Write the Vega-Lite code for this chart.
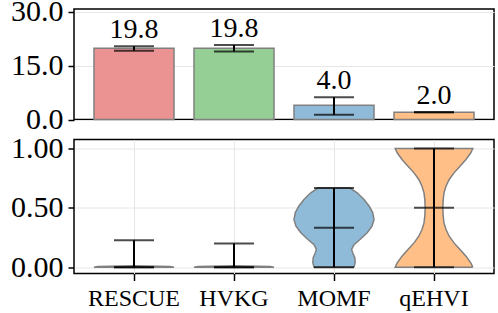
{
  "$schema": "https://vega.github.io/schema/vega-lite/v6.json",
  "padding": {"left": 9, "top": -5, "right": 5, "bottom": 0},
  "bounds": "flush",
  "spacing": 19.5,
  "resolve": {"scale": {"x": "independent", "xOffset": "independent"}},
  "config": {
    "view": {"stroke": "black", "strokeWidth": 1.5},
    "axis": {"domain": false, "labelFont": "Liberation Serif", "labelColor": "black", "tickColor": "black", "tickWidth": 1.5, "tickSize": 6, "gridColor": "#e6e6e6", "gridWidth": 1, "labelPadding": 5},
    "text": {"font": "Liberation Serif"}
  },
  "datasets": {
    "bars": [
      {"method": "RESCUE", "value": 19.8, "lo": 19.15, "hi": 20.4},
      {"method": "HVKG", "value": 19.8, "lo": 18.95, "hi": 20.7},
      {"method": "MOMF", "value": 4.0, "lo": 1.3, "hi": 6.2},
      {"method": "qEHVI", "value": 2.0, "lo": 2.0, "hi": 2.0}
    ],
    "stats": [
      {"method": "RESCUE", "min": 0, "median": 0, "max": 0.227},
      {"method": "HVKG", "min": 0, "median": 0, "max": 0.2},
      {"method": "MOMF", "min": 0, "median": 0.333, "max": 0.667},
      {"method": "qEHVI", "min": 0, "median": 0.5, "max": 1.0}
    ],
    "violin": [
      {"method": "RESCUE", "i": 0, "value": 0, "w": 1.0},
      {"method": "RESCUE", "i": 1, "value": 0.006, "w": 0.9},
      {"method": "RESCUE", "i": 2, "value": 0.012, "w": 0.0},
      {"method": "RESCUE", "i": 3, "value": 0.006, "w": -0.9},
      {"method": "RESCUE", "i": 4, "value": 0, "w": -1.0},
      {"method": "RESCUE", "i": 5, "value": 0, "w": 1.0},
      {"method": "HVKG", "i": 0, "value": 0, "w": 1.0},
      {"method": "HVKG", "i": 1, "value": 0.006, "w": 0.9},
      {"method": "HVKG", "i": 2, "value": 0.012, "w": 0.0},
      {"method": "HVKG", "i": 3, "value": 0.006, "w": -0.9},
      {"method": "HVKG", "i": 4, "value": 0, "w": -1.0},
      {"method": "HVKG", "i": 5, "value": 0, "w": 1.0},
      {"method": "MOMF", "i": 0, "value": 0.0, "w": 0.5},
      {"method": "MOMF", "i": 1, "value": 0.04, "w": 0.53},
      {"method": "MOMF", "i": 2, "value": 0.08, "w": 0.52},
      {"method": "MOMF", "i": 3, "value": 0.12, "w": 0.47},
      {"method": "MOMF", "i": 4, "value": 0.15, "w": 0.44},
      {"method": "MOMF", "i": 5, "value": 0.19, "w": 0.5},
      {"method": "MOMF", "i": 6, "value": 0.233, "w": 0.65},
      {"method": "MOMF", "i": 7, "value": 0.29, "w": 0.83},
      {"method": "MOMF", "i": 8, "value": 0.345, "w": 0.95},
      {"method": "MOMF", "i": 9, "value": 0.4, "w": 1.0},
      {"method": "MOMF", "i": 10, "value": 0.458, "w": 0.97},
      {"method": "MOMF", "i": 11, "value": 0.514, "w": 0.88},
      {"method": "MOMF", "i": 12, "value": 0.57, "w": 0.75},
      {"method": "MOMF", "i": 13, "value": 0.627, "w": 0.58},
      {"method": "MOMF", "i": 14, "value": 0.667, "w": 0.4},
      {"method": "MOMF", "i": 15, "value": 0.667, "w": -0.4},
      {"method": "MOMF", "i": 16, "value": 0.627, "w": -0.58},
      {"method": "MOMF", "i": 17, "value": 0.57, "w": -0.75},
      {"method": "MOMF", "i": 18, "value": 0.514, "w": -0.88},
      {"method": "MOMF", "i": 19, "value": 0.458, "w": -0.97},
      {"method": "MOMF", "i": 20, "value": 0.4, "w": -1.0},
      {"method": "MOMF", "i": 21, "value": 0.345, "w": -0.95},
      {"method": "MOMF", "i": 22, "value": 0.29, "w": -0.83},
      {"method": "MOMF", "i": 23, "value": 0.233, "w": -0.65},
      {"method": "MOMF", "i": 24, "value": 0.19, "w": -0.5},
      {"method": "MOMF", "i": 25, "value": 0.15, "w": -0.44},
      {"method": "MOMF", "i": 26, "value": 0.12, "w": -0.47},
      {"method": "MOMF", "i": 27, "value": 0.08, "w": -0.52},
      {"method": "MOMF", "i": 28, "value": 0.04, "w": -0.53},
      {"method": "MOMF", "i": 29, "value": 0.0, "w": -0.5},
      {"method": "MOMF", "i": 30, "value": 0.0, "w": 0.5},
      {"method": "qEHVI", "i": 0, "value": 0.0, "w": 0.97},
      {"method": "qEHVI", "i": 1, "value": 0.036, "w": 0.92},
      {"method": "qEHVI", "i": 2, "value": 0.093, "w": 0.8},
      {"method": "qEHVI", "i": 3, "value": 0.149, "w": 0.65},
      {"method": "qEHVI", "i": 4, "value": 0.205, "w": 0.5},
      {"method": "qEHVI", "i": 5, "value": 0.261, "w": 0.38},
      {"method": "qEHVI", "i": 6, "value": 0.318, "w": 0.3},
      {"method": "qEHVI", "i": 7, "value": 0.373, "w": 0.25},
      {"method": "qEHVI", "i": 8, "value": 0.43, "w": 0.23},
      {"method": "qEHVI", "i": 9, "value": 0.5, "w": 0.22},
      {"method": "qEHVI", "i": 10, "value": 0.57, "w": 0.23},
      {"method": "qEHVI", "i": 11, "value": 0.627, "w": 0.25},
      {"method": "qEHVI", "i": 12, "value": 0.682, "w": 0.3},
      {"method": "qEHVI", "i": 13, "value": 0.739, "w": 0.38},
      {"method": "qEHVI", "i": 14, "value": 0.795, "w": 0.5},
      {"method": "qEHVI", "i": 15, "value": 0.851, "w": 0.65},
      {"method": "qEHVI", "i": 16, "value": 0.907, "w": 0.8},
      {"method": "qEHVI", "i": 17, "value": 0.964, "w": 0.92},
      {"method": "qEHVI", "i": 18, "value": 1.0, "w": 0.97},
      {"method": "qEHVI", "i": 19, "value": 1.0, "w": -0.97},
      {"method": "qEHVI", "i": 20, "value": 0.964, "w": -0.92},
      {"method": "qEHVI", "i": 21, "value": 0.907, "w": -0.8},
      {"method": "qEHVI", "i": 22, "value": 0.851, "w": -0.65},
      {"method": "qEHVI", "i": 23, "value": 0.795, "w": -0.5},
      {"method": "qEHVI", "i": 24, "value": 0.739, "w": -0.38},
      {"method": "qEHVI", "i": 25, "value": 0.682, "w": -0.3},
      {"method": "qEHVI", "i": 26, "value": 0.627, "w": -0.25},
      {"method": "qEHVI", "i": 27, "value": 0.57, "w": -0.23},
      {"method": "qEHVI", "i": 28, "value": 0.5, "w": -0.22},
      {"method": "qEHVI", "i": 29, "value": 0.43, "w": -0.23},
      {"method": "qEHVI", "i": 30, "value": 0.373, "w": -0.25},
      {"method": "qEHVI", "i": 31, "value": 0.318, "w": -0.3},
      {"method": "qEHVI", "i": 32, "value": 0.261, "w": -0.38},
      {"method": "qEHVI", "i": 33, "value": 0.205, "w": -0.5},
      {"method": "qEHVI", "i": 34, "value": 0.149, "w": -0.65},
      {"method": "qEHVI", "i": 35, "value": 0.093, "w": -0.8},
      {"method": "qEHVI", "i": 36, "value": 0.036, "w": -0.92},
      {"method": "qEHVI", "i": 37, "value": 0.0, "w": -0.97},
      {"method": "qEHVI", "i": 38, "value": 0.0, "w": 0.97}
    ]
  },
  "vconcat": [
    {
      "width": 420,
      "height": 110.5,
      "data": {"name": "bars"},
      "encoding": {
        "x": {"field": "method", "type": "nominal", "scale": {"type": "band", "domain": ["RESCUE", "HVKG", "MOMF", "qEHVI"], "paddingInner": 0.2, "paddingOuter": 0.2}, "axis": null}
      },
      "layer": [
        {
          "mark": {"type": "bar", "stroke": "#808080", "strokeWidth": 1.5},
          "encoding": {
            "y": {"field": "value", "type": "quantitative", "scale": {"domain": [0, 30.75], "nice": false}, "axis": {"values": [0, 15, 30], "format": ".1f", "labelFontSize": 30, "title": null, "grid": true}},
            "color": {"field": "method", "type": "nominal", "scale": {"domain": ["RESCUE", "HVKG", "MOMF", "qEHVI"], "range": ["#eb9393", "#95cf95", "#8fbbd9", "#ffbf86"]}, "legend": null}
          }
        },
        {
          "mark": {"type": "rule", "color": "black", "strokeWidth": 2},
          "encoding": {"y": {"field": "lo", "type": "quantitative"}, "y2": {"field": "hi"}}
        },
        {
          "mark": {"type": "tick", "color": "black", "size": 40, "thickness": 2},
          "encoding": {"y": {"field": "lo", "type": "quantitative"}}
        },
        {
          "mark": {"type": "tick", "color": "black", "size": 40, "thickness": 2},
          "encoding": {"y": {"field": "hi", "type": "quantitative"}}
        },
        {
          "mark": {"type": "text", "fontSize": 28, "baseline": "alphabetic", "dy": -8, "color": "black", "font": "Liberation Serif"},
          "encoding": {"y": {"field": "hi", "type": "quantitative"}, "text": {"field": "value", "type": "quantitative", "format": ".1f"}}
        }
      ]
    },
    {
      "width": 420,
      "height": 134,
      "encoding": {
        "x": {"field": "method", "type": "nominal", "scale": {"type": "band", "domain": ["RESCUE", "HVKG", "MOMF", "qEHVI"], "paddingInner": 0.2, "paddingOuter": 0.2}, "axis": {"title": null, "labelFontSize": 24, "labelAngle": 0, "labelPadding": 6, "tickSize": 7, "grid": true}}
      },
      "layer": [
        {
          "data": {"name": "violin"},
          "mark": {"type": "line", "stroke": "#808080", "strokeWidth": 1.5},
          "encoding": {
            "y": {"field": "value", "type": "quantitative", "scale": {"domain": [-0.053, 1.076], "nice": false, "zero": false}, "axis": {"values": [0, 0.5, 1], "format": ".2f", "labelFontSize": 30, "title": null, "grid": true}},
            "xOffset": {"field": "w", "type": "quantitative", "scale": {"domain": [-1, 1], "range": [0, 80]}},
            "order": {"field": "i", "type": "quantitative"},
            "fill": {"field": "method", "type": "nominal", "scale": {"domain": ["RESCUE", "HVKG", "MOMF", "qEHVI"], "range": ["#eb9393", "#95cf95", "#8fbbd9", "#ffbf86"]}, "legend": null}
          }
        },
        {
          "data": {"name": "stats"},
          "mark": {"type": "rule", "color": "black", "strokeWidth": 2},
          "encoding": {"y": {"field": "min", "type": "quantitative"}, "y2": {"field": "max"}}
        },
        {
          "data": {"name": "stats"},
          "mark": {"type": "tick", "color": "black", "size": 40, "thickness": 2},
          "encoding": {"y": {"field": "min", "type": "quantitative"}}
        },
        {
          "data": {"name": "stats"},
          "mark": {"type": "tick", "color": "black", "size": 40, "thickness": 2},
          "encoding": {"y": {"field": "median", "type": "quantitative"}}
        },
        {
          "data": {"name": "stats"},
          "mark": {"type": "tick", "color": "black", "size": 40, "thickness": 2},
          "encoding": {"y": {"field": "max", "type": "quantitative"}}
        }
      ]
    }
  ]
}
